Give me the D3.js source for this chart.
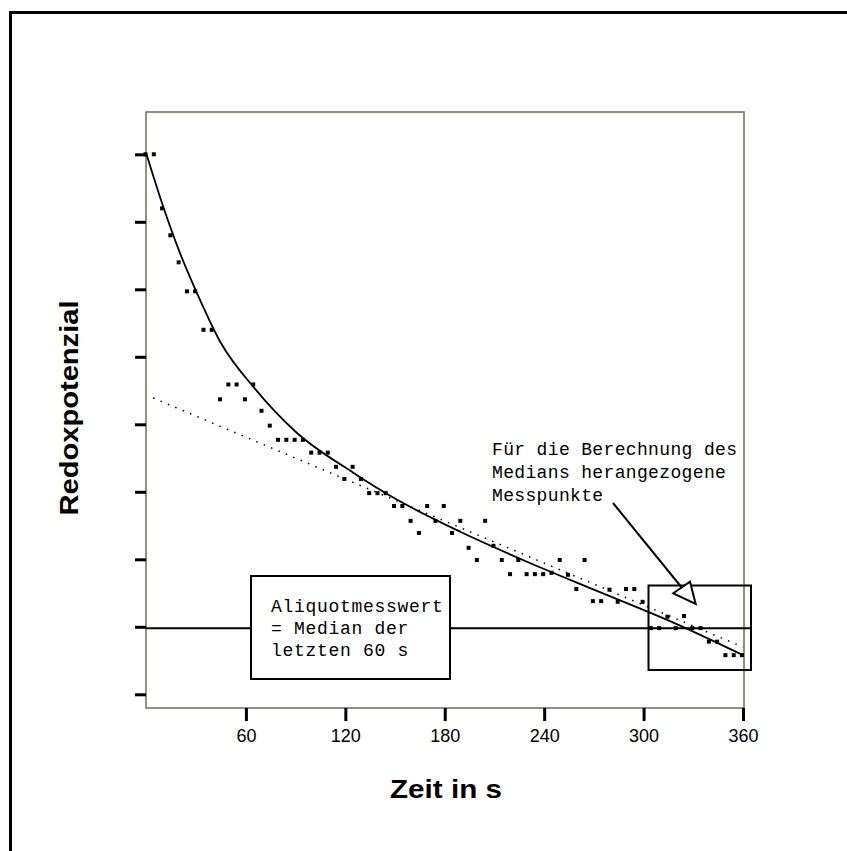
<!DOCTYPE html>
<html>
<head>
<meta charset="utf-8">
<script src="https://cdn.jsdelivr.net/npm/d3@7"></script>
<style>
  body { margin: 0; background: #fff; }
  svg { display: block; }
</style>
</head>
<body>
<div id="chart"></div>
<script>
var svgWidth = 847;
var svgHeight = 851;

// Zeit in s, Messwerte (Einheiten = Abstand der y-Striche)
var zeit = [0, 5, 10, 15, 20, 25, 30, 35, 40, 45, 50, 55, 60, 65, 70, 75, 80, 85, 90, 95,
    100, 105, 110, 115, 120, 125, 130, 135, 140, 145, 150, 155, 160, 165, 170, 175, 180, 185, 190, 195,
    200, 205, 210, 215, 220, 225, 230, 235, 240, 245, 250, 255, 260, 265, 270, 275, 280, 285, 290, 295,
    300, 305, 310, 315, 320, 325, 330, 335, 340, 345, 350, 355, 360];
var redox = [8.00, 8.00, 7.20, 6.80, 6.40, 5.97, 5.97, 5.40, 5.40, 4.37, 4.59, 4.59, 4.37, 4.59, 4.20, 3.98, 3.77, 3.77, 3.77, 3.77,
    3.58, 3.58, 3.58, 3.37, 3.19, 3.37, 3.19, 2.98, 2.98, 2.98, 2.79, 2.79, 2.57, 2.39, 2.79, 2.57, 2.79, 2.39, 2.57, 2.17,
    1.99, 2.57, 2.20, 1.99, 1.78, 1.99, 1.78, 1.78, 1.78, 1.80, 1.99, 1.77, 1.56, 1.99, 1.38, 1.38, 1.55, 1.37, 1.56, 1.56,
    1.37, 0.98, 0.98, 1.15, 0.98, 1.16, 0.98, 0.98, 0.78, 0.78, 0.58, 0.58, 0.58];

// angepasste Kurve
var fitZeit = [0, 10, 20, 30, 45, 65, 90, 125, 150, 190, 230, 270, 320, 360];
var fitWert = [8.00, 7.23, 6.55, 5.97, 5.20, 4.54, 3.89, 3.28, 2.90, 2.40, 1.96, 1.55, 1.04, 0.58];

// gepunktete Gerade
var trendZeit = [4, 360];
var trendWert = [4.39, 0.70];

var xTicks = [60, 120, 180, 240, 300, 360];
var yTicks = [0, 1, 2, 3, 4, 5, 6, 7, 8];

var medianStart = 300;

var svg = d3.select('#chart')
    .append('svg')
    .attr('width', svgWidth)
    .attr('height', svgHeight);

// outer frame (runs off the right and bottom edge)
svg.append('rect')
    .attr('x', 10.5)
    .attr('y', 12.5)
    .attr('width', 900)
    .attr('height', 900)
    .attr('fill', 'none')
    .attr('stroke', '#000')
    .attr('stroke-width', 3);

var x = d3.scaleLinear()
    .domain([0, 360])
    .range([146.5, 743]);

var y = d3.scaleLinear()
    .domain([0, 8])
    .range([694.3, 154.3]);

var plotTop = 112, plotBottom = 708, plotLeft = 146, plotRight = 744;

// plot frame
svg.append('rect')
    .attr('x', plotLeft)
    .attr('y', plotTop)
    .attr('width', plotRight - plotLeft)
    .attr('height', plotBottom - plotTop)
    .attr('fill', 'none')
    .attr('stroke', '#6e6e5a')
    .attr('stroke-width', 1.5);

// axes
var bottomAxis = d3.axisBottom(x)
    .tickValues(xTicks)
    .tickSize(13)
    .tickPadding(8);

var xAxis = svg.append('g')
    .attr('transform', `translate(0, ${plotBottom})`)
    .call(bottomAxis);
xAxis.select('.domain').remove();
xAxis.selectAll('line').attr('stroke', '#000').attr('stroke-width', 3);
xAxis.selectAll('text')
    .attr('fill', '#000')
    .style('font-family', 'Liberation Sans, Arial, sans-serif')
    .style('font-size', '19px')
    .attr('textLength', d => String(d).length * 10)
    .attr('lengthAdjust', 'spacingAndGlyphs');

var leftAxis = d3.axisLeft(y)
    .tickValues(yTicks)
    .tickSize(11)
    .tickFormat('');

var yAxis = svg.append('g')
    .attr('transform', `translate(${plotLeft}, 0)`)
    .call(leftAxis);
yAxis.select('.domain').remove();
yAxis.selectAll('line').attr('stroke', '#000').attr('stroke-width', 3);

// median of the last 60 s
var lastPts = zeit.map((t, i) => [t, redox[i]]).filter(d => d[0] >= medianStart);
var medianWert = d3.median(lastPts, d => d[1]);

svg.append('line')
    .attr('x1', plotLeft)
    .attr('x2', 751)
    .attr('y1', y(medianWert))
    .attr('y2', y(medianWert))
    .attr('stroke', '#000')
    .attr('stroke-width', 2);

// dotted trend line
svg.append('line')
    .attr('x1', x(trendZeit[0]))
    .attr('y1', y(trendWert[0]))
    .attr('x2', x(trendZeit[1]))
    .attr('y2', y(trendWert[1]))
    .attr('stroke', '#000')
    .attr('stroke-width', 1.5)
    .attr('stroke-dasharray', '1.5,6.5');

// fitted curve
var fitLine = d3.line()
    .x(d => x(d[0]))
    .y(d => y(d[1]))
    .curve(d3.curveMonotoneX);

svg.append('path')
    .datum(fitZeit.map((t, i) => [t, fitWert[i]]))
    .attr('d', fitLine)
    .attr('fill', 'none')
    .attr('stroke', '#000')
    .attr('stroke-width', 1.8);

// measured points
svg.selectAll('rect.pt')
    .data(zeit.map((t, i) => [t, redox[i]]))
    .enter()
    .append('rect')
    .attr('class', 'pt')
    .attr('x', d => x(d[0]) - 3)
    .attr('y', d => y(d[1]) - 2)
    .attr('width', 4)
    .attr('height', 4)
    .attr('fill', '#000');

// left annotation box
svg.append('rect')
    .attr('x', 251)
    .attr('y', 576)
    .attr('width', 199)
    .attr('height', 103)
    .attr('fill', '#fff')
    .attr('stroke', '#000')
    .attr('stroke-width', 2);

var boxText = svg.append('text')
    .style('font-family', 'Liberation Mono, Courier New, monospace')
    .style('font-size', '18px')
    .style('letter-spacing', '0.7px')
    .attr('fill', '#000');
boxText.selectAll('tspan')
    .data(['Aliquotmesswert', '= Median der', 'letzten 60 s'])
    .enter()
    .append('tspan')
    .attr('x', 271)
    .attr('y', (d, i) => 612 + i * 22)
    .text(d => d);

// right box around the last points
svg.append('rect')
    .attr('x', 648.5)
    .attr('y', 585.5)
    .attr('width', 102.5)
    .attr('height', 84.5)
    .attr('fill', 'none')
    .attr('stroke', '#000')
    .attr('stroke-width', 2);

var noteText = svg.append('text')
    .style('font-family', 'Liberation Mono, Courier New, monospace')
    .style('font-size', '18px')
    .style('letter-spacing', '0.35px')
    .attr('fill', '#000');
noteText.selectAll('tspan')
    .data(['Für die Berechnung des', 'Medians herangezogene', 'Messpunkte'])
    .enter()
    .append('tspan')
    .attr('x', 492)
    .attr('y', (d, i) => 455 + i * 23)
    .text(d => d);

// arrow
svg.append('line')
    .attr('x1', 613)
    .attr('y1', 503)
    .attr('x2', 681.7)
    .attr('y2', 587.5)
    .attr('stroke', '#000')
    .attr('stroke-width', 2);

svg.append('polygon')
    .attr('points', '673.3,593.3 690,581.7 695.7,604')
    .attr('fill', '#fff')
    .attr('stroke', '#000')
    .attr('stroke-width', 2);

// axis titles
svg.append('text')
    .attr('transform', 'translate(78, 408) rotate(-90)')
    .style('text-anchor', 'middle')
    .style('font-family', 'Liberation Sans, Arial, sans-serif')
    .style('font-weight', 'bold')
    .style('font-size', '26px')
    .attr('textLength', 215)
    .attr('lengthAdjust', 'spacingAndGlyphs')
    .text('Redoxpotenzial');

svg.append('text')
    .attr('x', 446)
    .attr('y', 798)
    .style('text-anchor', 'middle')
    .style('font-family', 'Liberation Sans, Arial, sans-serif')
    .style('font-weight', 'bold')
    .style('font-size', '26px')
    .attr('textLength', 112)
    .attr('lengthAdjust', 'spacingAndGlyphs')
    .text('Zeit in s');
</script>
</body>
</html>
